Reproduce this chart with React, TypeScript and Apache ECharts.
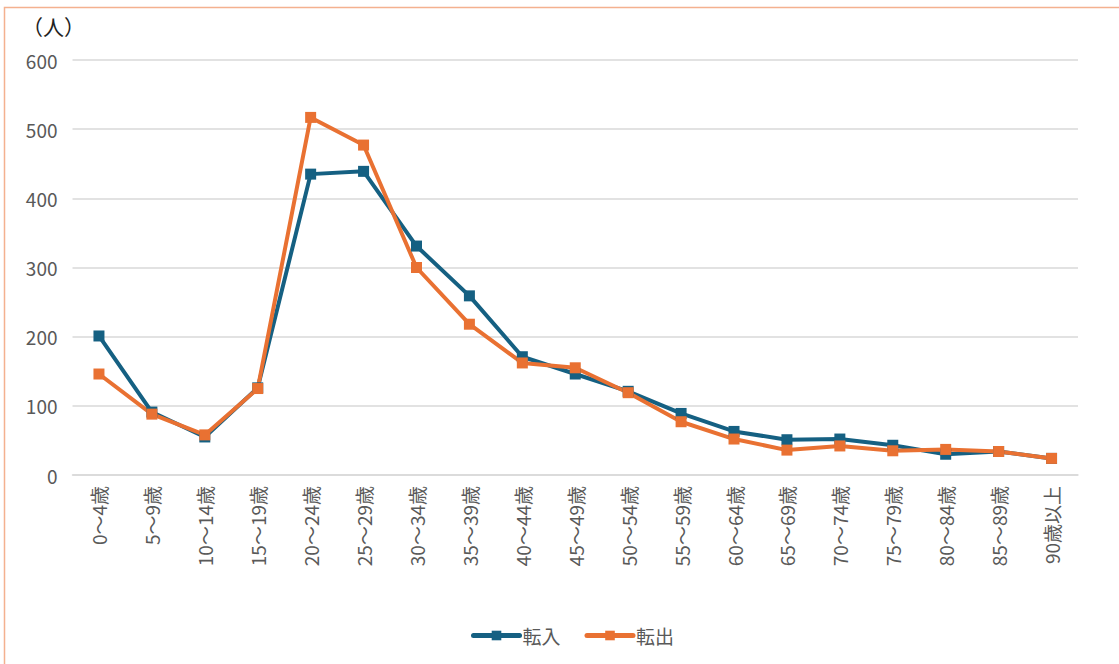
import React, { useEffect, useRef } from "react";
import * as echarts from "echarts";

const categories = [
  "0～4歳", "5～9歳", "10～14歳", "15～19歳", "20～24歳", "25～29歳", "30～34歳",
  "35～39歳", "40～44歳", "45～49歳", "50～54歳", "55～59歳", "60～64歳", "65～69歳",
  "70～74歳", "75～79歳", "80～84歳", "85～89歳", "90歳以上",
];
const tennyu = [201, 91, 55, 126, 435, 439, 331, 259, 171, 146, 121, 89, 63, 51, 52, 43, 30, 34, 24];
const tenshutsu = [146, 88, 58, 125, 517, 477, 300, 218, 162, 155, 119, 77, 52, 36, 42, 35, 37, 34, 24];
const yTicks = { min: 0, max: 600, interval: 100 };

const FONT = "'Noto Sans CJK JP', 'Noto Sans', sans-serif";

export default function App() {
  const ref = useRef<HTMLDivElement>(null);
  useEffect(() => {
    const chart = echarts.init(ref.current!, null, { renderer: "svg" });
    chart.setOption({
      animation: false,
      backgroundColor: "#ffffff",
      textStyle: { fontFamily: FONT },
      graphic: [
        {
          type: "rect",
          shape: { x: 4.5, y: 7.5, width: 1140, height: 700 },
          style: { fill: "none", stroke: "#F4B18F", lineWidth: 1.5 },
          silent: true,
        },
        {
          type: "text",
          left: 22,
          top: 15,
          style: { text: "（人）", fontSize: 21, fill: "#222", fontFamily: FONT },
        },
      ],
      grid: { left: 72.5, right: 41, top: 60, bottom: 189, containLabel: false },
      legend: {
        bottom: 14,
        left: 466,
        itemWidth: 46,
        itemHeight: 12,
        itemGap: 24,
        textStyle: { fontSize: 19, color: "#595959", fontFamily: FONT, padding: [0, 0, 0, -2] },
        lineStyle: { width: 5, cap: "round" },
        data: ["転入", "転出"],
      },
      xAxis: {
        type: "category",
        data: categories,
        boundaryGap: true,
        axisLine: { lineStyle: { color: "#d9d9d9", width: 1.5 } },
        axisTick: { show: false },
        axisLabel: {
          rotate: 90,
          interval: 0,
          margin: 11,
          fontSize: 19,
          color: "#595959",
          fontFamily: FONT,
        },
      },
      yAxis: {
        type: "value",
        min: yTicks.min,
        max: yTicks.max,
        interval: yTicks.interval,
        axisLine: { show: false },
        axisTick: { show: false },
        splitLine: { lineStyle: { color: "#d9d9d9", width: 1.5 } },
        axisLabel: { fontSize: 19, color: "#595959", margin: 15, fontFamily: FONT },
      },
      series: [
        {
          name: "転入",
          type: "line",
          data: tennyu,
          symbol: "rect",
          symbolSize: 11,
          lineStyle: { color: "#156082", width: 4 },
          itemStyle: { color: "#156082" },
        },
        {
          name: "転出",
          type: "line",
          data: tenshutsu,
          symbol: "rect",
          symbolSize: 11,
          lineStyle: { color: "#E97132", width: 4 },
          itemStyle: { color: "#E97132" },
        },
      ],
    });
    return () => chart.dispose();
  }, []);
  return (
    <div
      ref={ref}
      style={{ position: "absolute", left: 0, top: 0, width: 1119, height: 664 }}
    />
  );
}
